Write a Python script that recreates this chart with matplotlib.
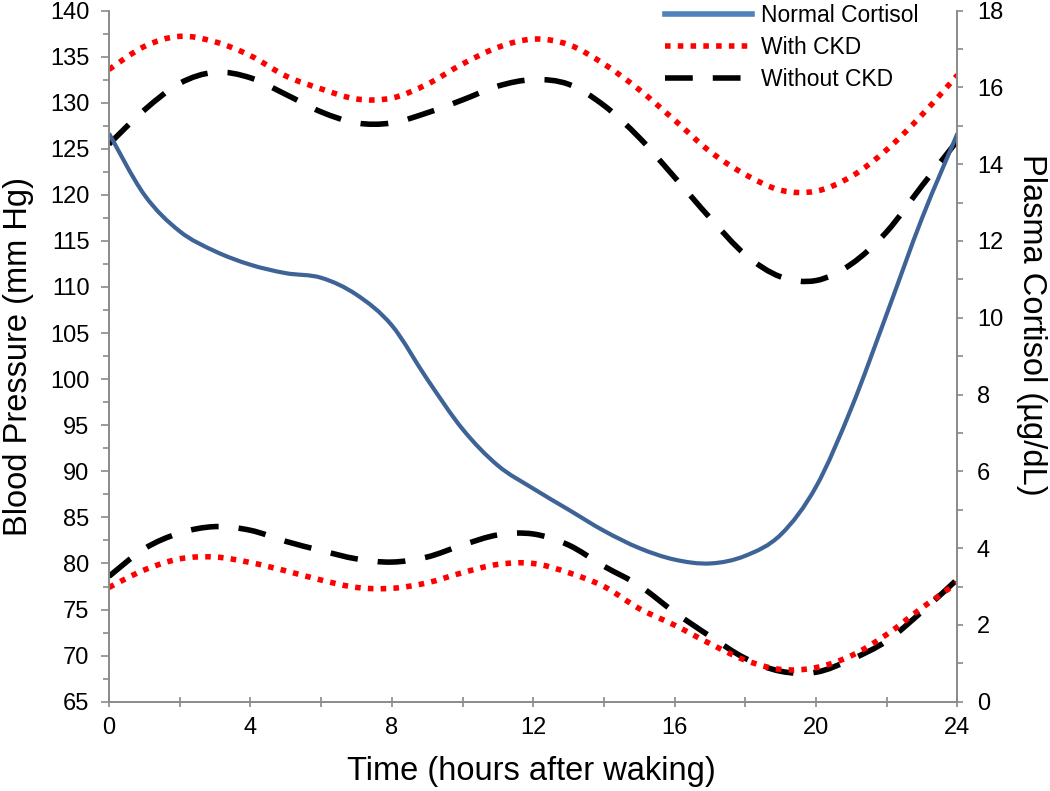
import matplotlib.pyplot as plt
from matplotlib.ticker import MultipleLocator
from matplotlib.path import Path
from matplotlib.patches import PathPatch

plt.rcParams['font.family'] = ['Liberation Sans', 'DejaVu Sans']

# hours after waking, one reading per hour
hours = list(range(0, 25))

# blood pressure, mm Hg (left axis)
ckd_systolic = [133.6, 136.1, 137.2, 136.6, 135.1, 132.9, 131.5, 130.4, 130.5, 132.0, 134.2, 136.0, 136.9,
                136.3, 134.2, 131.4, 128.1, 124.7, 122.2, 120.5, 120.4, 122.0, 124.9, 128.7, 133.0]
ckd_diastolic = [77.4, 79.3, 80.5, 80.7, 80.1, 79.2, 78.2, 77.4, 77.3, 77.9, 79.0, 79.9, 80.0,
                 79.0, 77.5, 75.1, 73.3, 71.3, 69.5, 68.5, 68.7, 70.0, 72.3, 75.2, 77.9]
no_ckd_systolic = [125.5, 129.2, 132.1, 133.3, 132.7, 130.9, 129.0, 127.8, 127.8, 128.9, 130.3, 131.8, 132.5,
                   132.0, 129.7, 126.2, 121.9, 117.5, 113.5, 111.1, 110.7, 112.5, 116.0, 121.0, 125.9]
no_ckd_diastolic = [78.6, 81.6, 83.3, 84.0, 83.6, 82.4, 81.4, 80.5, 80.15, 80.7, 82.0, 83.1, 83.2,
                    82.0, 79.7, 77.6, 74.7, 72.1, 69.7, 68.3, 68.2, 69.6, 71.6, 74.8, 78.3]

# plasma cortisol, ug/dL (right axis)
cortisol = [14.8, 13.2, 12.25, 11.73, 11.38, 11.16, 11.04, 10.6, 9.8, 8.4, 7.1, 6.15, 5.55,
            5.0, 4.45, 4.0, 3.7, 3.6, 3.8, 4.35, 5.6, 7.65, 10.1, 12.6, 14.8]

blue = '#3E6396'
grey = '#8A8A8A'
dash = (0, (5.0, 3.6))
dot = (0, (1.0, 1.3))


# Excel style "smoothed line": bezier segments through each reading
def smooth_line(a, xs, ys, **kw):
    pts = list(zip(xs, ys))
    n = len(pts)
    verts = [pts[0]]
    codes = [Path.MOVETO]
    for i in range(n - 1):
        p0 = pts[max(i - 1, 0)]
        p1 = pts[i]
        p2 = pts[i + 1]
        p3 = pts[min(i + 2, n - 1)]
        c1 = (p1[0] + (p2[0] - p0[0]) / 6, p1[1] + (p2[1] - p0[1]) / 6)
        c2 = (p2[0] - (p3[0] - p1[0]) / 6, p2[1] - (p3[1] - p1[1]) / 6)
        verts += [c1, c2, p2]
        codes += [Path.CURVE4] * 3
    patch = PathPatch(Path(verts, codes), fill=False, transform=a.transData,
                      joinstyle='round', **kw)
    a.add_patch(patch)


fig = plt.figure(figsize=(10.5, 7.91), dpi=100)
ax = fig.add_axes([0.1038, 0.1129, 0.8081, 0.8738])
ax2 = ax.twinx()

smooth_line(ax, hours, no_ckd_systolic, edgecolor='black', lw=4, linestyle=dash, capstyle='butt')
smooth_line(ax, hours, no_ckd_diastolic, edgecolor='black', lw=4, linestyle=dash, capstyle='butt')
smooth_line(ax, hours, ckd_systolic, edgecolor='red', lw=4, linestyle=dot, capstyle='butt')
smooth_line(ax, hours, ckd_diastolic, edgecolor='red', lw=4, linestyle=dot, capstyle='butt')
smooth_line(ax2, hours, cortisol, edgecolor=blue, lw=3, capstyle='butt')

ax.set_xlim(0, 24)
ax.set_ylim(65, 140)
ax2.set_ylim(0, 18)

ax.xaxis.set_major_locator(MultipleLocator(4))
ax.xaxis.set_minor_locator(MultipleLocator(2))
ax.yaxis.set_major_locator(MultipleLocator(5))
ax.yaxis.set_minor_locator(MultipleLocator(2.5))
ax2.yaxis.set_major_locator(MultipleLocator(2))
ax2.yaxis.set_minor_locator(MultipleLocator(1))

for a in (ax, ax2):
    for side in ('left', 'right', 'bottom'):
        a.spines[side].set_color(grey)
        a.spines[side].set_linewidth(1.2)
    a.spines['top'].set_visible(False)

ax.tick_params(axis='x', which='both', direction='inout', length=7.5, width=1.2, color=grey,
               labelsize=17, pad=7.5)
ax.tick_params(axis='y', which='major', direction='out', length=5.5, width=1.2, color=grey,
               labelsize=17, pad=8.5)
ax.tick_params(axis='y', which='minor', direction='out', length=4.5, width=1.2, color=grey)
ax2.tick_params(axis='y', which='major', direction='out', length=4, width=1.2, color=grey,
                labelsize=17, pad=10)
ax2.tick_params(axis='y', which='minor', direction='out', length=4, width=1.2, color=grey)

ax.set_xlabel('Time (hours after waking)', fontsize=23.5, va='center', ha='center')
ax.xaxis.set_label_coords(0.4975, -0.101)
ax.set_ylabel('Blood Pressure (mm Hg)', fontsize=23.5, va='center', ha='center')
ax.yaxis.set_label_coords(-0.107, 0.5)
ax2.set_ylabel('Plasma Cortisol (\u00b5g/dL)', fontsize=23.5, rotation=270, va='center', ha='center')
ax2.yaxis.set_label_coords(1.087, 0.545)

handles = [
    plt.Line2D([], [], color='#4F81BD', lw=4),
    plt.Line2D([], [], color='red', lw=4, linestyle=dot, dash_capstyle='butt'),
    plt.Line2D([], [], color='black', lw=4, linestyle=dash, dash_capstyle='butt'),
]
labels = ['Normal Cortisol', 'With CKD', 'Without CKD']
fig.legend(handles, labels, loc='upper left', bbox_to_anchor=(0.633, 0.995), frameon=False,
           fontsize=16.5, handlelength=3.8, handletextpad=0.4, labelspacing=0.4,
           borderpad=0, borderaxespad=0)

fig.savefig('out.png', dpi=100)
